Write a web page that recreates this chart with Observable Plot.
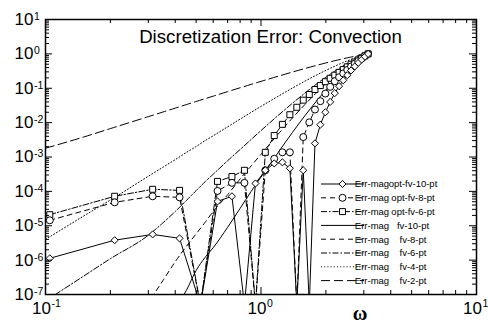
<!DOCTYPE html>
<html><head><meta charset="utf-8">
<script src="https://cdn.jsdelivr.net/npm/d3@7"></script>
<script src="https://cdn.jsdelivr.net/npm/@observablehq/plot@0.6"></script>
<style>html,body{margin:0;padding:0;background:#fff;}</style>
</head><body><div id="chart"></div>
<script>
// ---- data ----
const omegaOpt = [0.1047,0.2094,0.3142,0.4189,0.5236,0.6283,0.7330,0.8378,0.9425,1.0472,
  1.1519,1.2566,1.3614,1.4661,1.5708,1.6755,1.7802,1.8850,1.9897,2.0944,
  2.1991,2.3038,2.4086,2.5133,2.6180,2.7227,2.8274,2.9322,3.0369,3.1416];
const optFv10 = [1.13e-6,3.8e-6,5.6e-6,4.3e-6,5e-8,5.1e-5,7.2e-5,5e-8,1.7e-4,4.1e-4,
  6.5e-4,7.0e-4,4.7e-4,5e-8,4.1e-4,5e-8,2.5e-3,8.7e-3,0.020,0.040,
  0.072,0.115,0.17,0.24,0.33,0.43,0.55,0.68,0.83,1.0];
const optFv8 = [1.44e-5,4.8e-5,7.2e-5,6.7e-5,5e-8,1.03e-4,1.77e-4,1.77e-4,5e-8,4.1e-4,
  8.9e-4,1.37e-3,1.37e-3,5e-8,3.8e-3,0.0102,0.024,0.042,0.07,0.11,
  0.16,0.21,0.27,0.34,0.43,0.52,0.62,0.74,0.87,1.0];
const optFv6 = [2.1e-5,7.2e-5,1.15e-4,1.07e-4,5e-8,1.95e-4,2.7e-4,4.1e-4,5e-8,1.37e-3,
  4.2e-3,8.9e-3,0.017,0.028,0.045,0.066,0.092,0.12,0.155,0.195,
  0.24,0.29,0.35,0.42,0.50,0.58,0.67,0.77,0.88,1.0];

const omegaFv = [0.1,0.15,0.2,0.3,0.35,0.4,0.45,0.5,0.55,0.6,0.7,0.8,0.9,1.0,1.2,1.4,1.6,1.8,2.0,2.2,2.4,2.6,2.8,3.0,3.1416];
const fv2 = [1.8e-3,3.8e-3,6.7e-3,0.01494,0.02029,0.02645,0.03341,0.04115,0.04966,0.05893,0.07969,0.1033,0.1296,0.1585,0.2233,0.2961,0.3753,0.4590,0.5453,0.6325,0.7186,0.8017,0.8804,0.9530,1.0];
const fv4 = [4.0e-6,1.9e-5,5.6e-5,2.75e-4,5.0e-4,8.4e-4,1.35e-3,2.02e-3,2.98e-3,4.14e-3,7.55e-3,0.01265,0.01986,0.0296,0.0582,0.1014,0.161,0.2377,0.3307,0.4379,0.5556,0.679,0.803,0.9218,1.0];
const fv6 = [6.5e-8,3.4e-7,1.1e-6,5.3e-6,1.2e-5,2.6e-5,5.4e-5,1.05e-4,1.9e-4,3.15e-4,7.8e-4,1.65e-3,3.24e-3,5.88e-3,0.0161,0.0367,0.0727,0.129,0.2092,0.3143,0.4423,0.5879,0.7427,0.8969,1.0];
const fv8 = [1e-11,4e-10,4e-9,6e-8,2.5e-7,9e-7,2.5e-6,5.8e-6,1.25e-5,2.6e-5,8e-5,2.3e-4,5.5e-4,1.2e-3,4.6e-3,0.0137,0.0338,0.0719,0.1354,0.2301,0.3579,0.5153,0.6926,0.8757,1.0];
const fv10 = [1e-12,1e-11,1e-10,4e-9,1.2e-8,4e-8,1.3e-7,5e-7,1.2e-6,2.3e-6,9e-6,3.2e-5,1.0e-4,2.6e-4,1.34e-3,5.2e-3,0.016,0.0407,0.0889,0.1707,0.2928,0.4555,0.6494,0.857,1.0];

const xMajor = [0.1, 1, 10];
const xExp = ["-1", "0", "1"];
const yMajor = [1e-7,1e-6,1e-5,1e-4,1e-3,1e-2,1e-1,1,10];
const yExp = ["-7","-6","-5","-4","-3","-2","-1","0","1"];
const titleText = "Discretization Error: Convection";
const legendPrefix = "Err-mag";
const legendNames = ["opt-fv-10-pt","opt-fv-8-pt","opt-fv-6-pt","fv-10-pt","fv-8-pt","fv-6-pt","fv-4-pt","fv-2-pt"];

// ---- styles ----
const D_SOLID = null, D_DASH = "5,4", D_DASHDOT = "6,2,1.5,2", D_DOT = "1,2.2", D_LONG = "9,4";
const xMinor = [], yMinor = [];
[0.1, 1].forEach(d => { for (let m = 2; m <= 9; m++) xMinor.push(m * d); });
for (let e = -7; e <= 0; e++) for (let m = 2; m <= 9; m++) yMinor.push(m * Math.pow(10, e));

const W = 488, H = 323, ML = 45, MR = 12, MT = 19, MB = 29;
const FW = W - ML - MR, FH = H - MT - MB;
const font = "'Liberation Sans', Arial, Helvetica, sans-serif";

const rows = (xs, ys) => xs.map((w, i) => ({w, e: ys[i]}));
const fvLine = (ys, dash) => Plot.line(rows(omegaFv, ys), {x: "w", y: "e", stroke: "black", strokeWidth: 1, strokeDasharray: dash, curve: "monotone-x", clip: true});
const optLine = (ys, dash) => Plot.line(rows(omegaOpt, ys), {x: "w", y: "e", stroke: "black", strokeWidth: 1, strokeDasharray: dash, clip: true});
const optDot = (ys, symbol, r) => Plot.dot(rows(omegaOpt, ys), {x: "w", y: "e", symbol, r, fill: "white", stroke: "black", strokeWidth: 1, clip: true});

const chart = Plot.plot({
  width: W, height: H,
  marginLeft: ML, marginRight: MR, marginTop: MT, marginBottom: MB,
  style: {fontFamily: font, background: "white", color: "black"},
  x: {type: "log", domain: [0.1, 10], axis: null},
  y: {type: "log", domain: [1e-7, 10], axis: null},
  marks: [
    fvLine(fv2, D_LONG),
    fvLine(fv4, D_DOT),
    fvLine(fv6, D_DASHDOT),
    fvLine(fv8, D_DASH),
    fvLine(fv10, D_SOLID),
    optLine(optFv6, D_DASHDOT),
    optLine(optFv8, D_DASH),
    optLine(optFv10, D_SOLID),
    optDot(optFv6, "square2", 3.8),
    optDot(optFv8, "circle", 3.5),
    optDot(optFv10, "diamond2", 3.2),
    // ticks (inward on all four sides)
    Plot.tickX(xMajor, {x: d => d, insetTop: FH - 7}),
    Plot.tickX(xMajor, {x: d => d, insetBottom: FH - 7}),
    Plot.tickX(xMinor, {x: d => d, insetTop: FH - 4}),
    Plot.tickX(xMinor, {x: d => d, insetBottom: FH - 4}),
    Plot.tickY(yMajor, {y: d => d, insetRight: FW - 7}),
    Plot.tickY(yMajor, {y: d => d, insetLeft: FW - 7}),
    Plot.tickY(yMinor, {y: d => d, insetRight: FW - 4}),
    Plot.tickY(yMinor, {y: d => d, insetLeft: FW - 4}),
    Plot.frame({stroke: "black", strokeWidth: 1.5}),
    // tick labels
    Plot.text(xMajor, {x: d => d, frameAnchor: "bottom", lineAnchor: "middle", text: () => "10", textAnchor: "end", dx: 5.5, dy: 14, fontSize: 17}),
    Plot.text(xMajor, {x: d => d, frameAnchor: "bottom", lineAnchor: "middle", text: (d, i) => xExp[i], textAnchor: "start", dx: 6, dy: 9, fontSize: 10.5}),
    Plot.text(yMajor, {y: d => d, frameAnchor: "left", lineAnchor: "middle", text: () => "10", textAnchor: "end", dx: -12, dy: 0, fontSize: 17}),
    Plot.text(yMajor, {y: d => d, frameAnchor: "left", lineAnchor: "middle", text: (d, i) => yExp[i], textAnchor: "start", dx: -11.5, dy: -3, fontSize: 10.5}),
    // title
    Plot.text([titleText], {frameAnchor: "top", lineAnchor: "middle", text: d => d, dx: 9.5, dy: 18, fontSize: 18.7})
  ]
});
document.getElementById("chart").appendChild(chart);

// ---- x axis label & legend ----
const svg = d3.select(chart);
svg.append("text").attr("x", 360).attr("y", 320).attr("text-anchor", "middle")
  .attr("font-family", "'Liberation Serif', 'DejaVu Serif', serif").attr("font-size", 20).attr("font-weight", "bold")
  .attr("fill", "black").text("ω");

const legendStyles = [
  {dash: D_SOLID, sym: d3.symbolDiamond2, r: 3.2},
  {dash: D_DASH, sym: d3.symbolCircle, r: 3.5},
  {dash: D_DASHDOT, sym: d3.symbolSquare2, r: 3.8},
  {dash: D_SOLID}, {dash: D_DASH}, {dash: D_DASHDOT}, {dash: D_DOT}, {dash: D_LONG}
];
const lg = svg.append("g").attr("font-family", font).attr("fill", "black");
legendNames.forEach((name, i) => {
  const y = 184 + i * 13.8, st = legendStyles[i];
  const ln = lg.append("line").attr("x1", 321).attr("x2", 364).attr("y1", y).attr("y2", y)
    .attr("stroke", "black").attr("stroke-width", 1);
  if (st.dash) ln.attr("stroke-dasharray", st.dash);
  if (st.sym) lg.append("path").attr("d", d3.symbol(st.sym, st.r * st.r * Math.PI)())
    .attr("transform", `translate(342.5,${y})`).attr("fill", "white").attr("stroke", "black");
  lg.append("text").attr("x", 372).attr("y", y + 3.4).style("font-size", "9.5px").text(legendPrefix);
  lg.append("text").attr("x", 413).attr("y", y + 3.4).style("font-size", "9.5px").text(name);
});
</script>
</body></html>
